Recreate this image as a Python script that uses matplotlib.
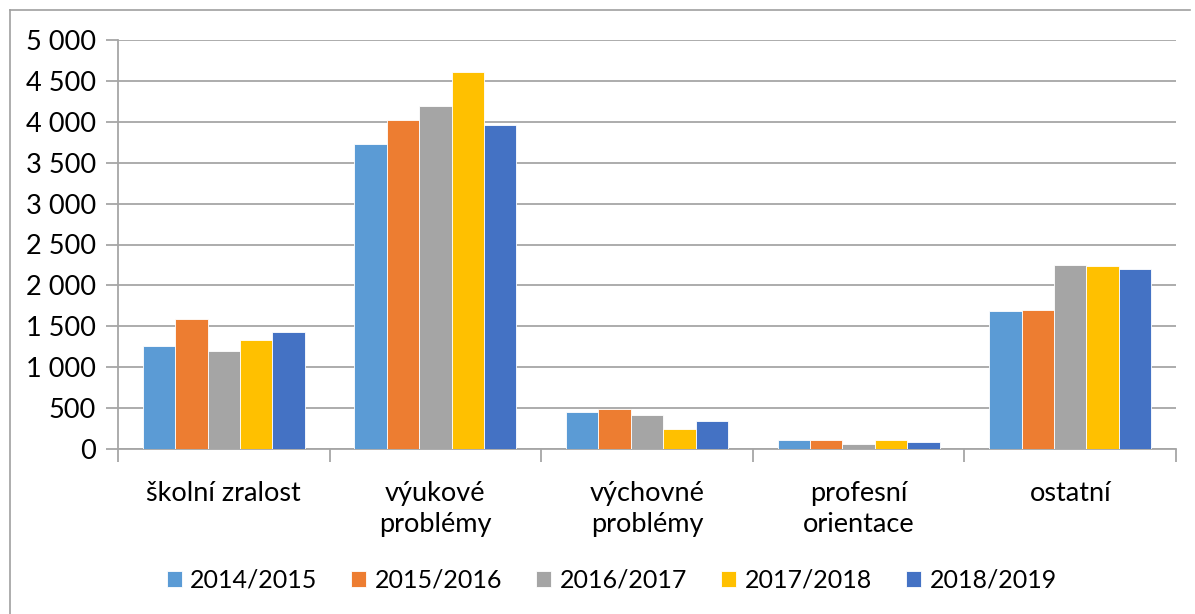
import matplotlib.pyplot as plt
import numpy as np
from matplotlib.lines import Line2D

# kategorie a hodnoty podle skolnich roku
categories = ['školní zralost', 'výukové\nproblémy', 'výchovné\nproblémy',
              'profesní\norientace', 'ostatní']
years = ['2014/2015', '2015/2016', '2016/2017', '2017/2018', '2018/2019']

v_2014 = [1256, 3723, 450, 115, 1681]
v_2015 = [1585, 4017, 485, 115, 1695]
v_2016 = [1195, 4188, 420, 66, 2255]
v_2017 = [1338, 4606, 250, 115, 2235]
v_2018 = [1430, 3955, 345, 86, 2206]

series = [v_2014, v_2015, v_2016, v_2017, v_2018]
colors = ['#5B9BD5', '#ED7D31', '#A5A5A5', '#FFC000', '#4472C4']
yticks = [0, 500, 1000, 1500, 2000, 2500, 3000, 3500, 4000, 4500, 5000]

plt.rcParams['font.family'] = ['Lato', 'DejaVu Sans']

W, H = 1195, 614
fig = plt.figure(figsize=(W / 100, H / 100), dpi=100)
ax = fig.add_axes([118 / W, 1 - 449 / H, (1176 - 118) / W, (449 - 40) / H])

x = np.arange(len(categories))
bw = 0.153
for i, (vals, c, lab) in enumerate(zip(series, colors, years)):
    ax.bar(x + (i - 2) * bw, vals, width=bw, color=c, label=lab,
           edgecolor='white', linewidth=0.6, zorder=3)

ax.set_xlim(-0.5, len(categories) - 0.5)
ax.set_ylim(0, 5000)
ax.set_yticks(yticks)
ax.set_yticklabels([f'{t:,}'.replace(',', ' ') for t in yticks], fontsize=19.5)
ax.grid(axis='y', color='#A6A6A6', linewidth=1.3, zorder=0)
ax.tick_params(axis='y', length=9, width=1.3, color='#A6A6A6', pad=7)

# popisky kategorii a znacky mezi nimi
ax.set_xticks(x)
ax.set_xticklabels(categories, fontsize=19.5, linespacing=1.28)
ax.tick_params(axis='x', length=0, pad=23)
ax.set_xticks(np.arange(len(categories) + 1) - 0.5, minor=True)
ax.tick_params(axis='x', which='minor', length=9, width=1.3, color='#A6A6A6')

for s in ['top', 'right']:
    ax.spines[s].set_visible(False)
for s in ['left', 'bottom']:
    ax.spines[s].set_color('#A6A6A6')
    ax.spines[s].set_linewidth(1.3)

fig.legend(loc='center', bbox_to_anchor=(0.512, 1 - 580 / H), ncol=5,
           frameon=False, fontsize=18, handlelength=0.6, handleheight=0.6,
           handletextpad=0.35, columnspacing=1.35)

# ramecek grafu
fig.add_artist(Line2D([10 / W, 1190 / W], [1 - 10 / H, 1 - 10 / H],
                      color='#A0A0A0', linewidth=1.2))
fig.add_artist(Line2D([10 / W, 10 / W], [0, 1 - 10 / H],
                      color='#A0A0A0', linewidth=1.2))

fig.savefig('out.png', dpi=100)
